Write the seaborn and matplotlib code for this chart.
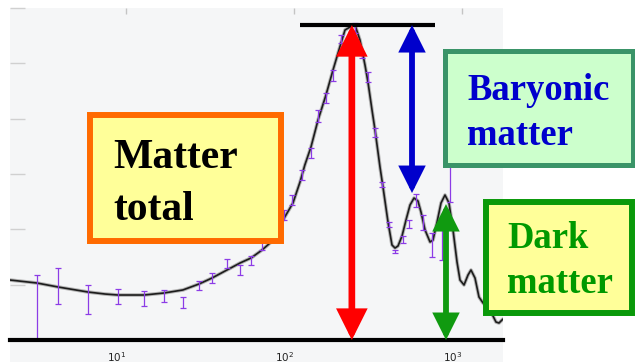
import matplotlib
matplotlib.use("Agg")
import matplotlib.pyplot as plt
import seaborn as sns
import pandas as pd
from matplotlib.patches import Rectangle, FancyArrowPatch, ArrowStyle
from matplotlib.ticker import FixedLocator, NullLocator

# model curve: multipole l and D_l (uK^2)
ell_curve = [2.04, 2.95, 3.94, 5.94, 7.5, 8.96, 12.8, 16.8, 21.8, 27.2, 32.5, 39.9,
             47.7, 55.5, 64.5, 72.0, 86.0, 98.6, 108.6, 116, 126.2, 139, 155, 170.7,
             190.5, 201.2, 215.4, 230.7, 247, 264.6, 275.6, 291.3, 303.6, 325, 338.6,
             362.7, 383.1, 399.3, 416, 439.5, 464.2, 490.4, 518, 547, 570, 602.6,
             645.4, 672, 710.5, 750, 792, 836.8, 884, 934, 973, 1028, 1086, 1131,
             1195, 1262, 1334, 1469, 1593, 1660, 1754]
dl_curve = [1084, 1030, 958, 867, 831, 813, 813, 849, 904, 1012, 1120, 1265,
            1391, 1482, 1626, 1753, 2168, 2476, 2855, 3162, 3488, 3975, 4427, 4879,
            5367, 5602, 5656, 5692, 5421, 4969, 4662, 4156, 3795, 3126, 2765,
            2132, 1717, 1662, 1699, 1879, 2168, 2439, 2566, 2512, 2313, 1988,
            1771, 1807, 2132, 2476, 2620, 2476, 1988, 1409, 1084, 994, 1175, 1265,
            1120, 777, 669, 542, 325, 307, 379]

# binned measurements with error bars
ell_pts = [2.95, 3.94, 5.94, 8.96, 12.8, 16.8, 21.8, 27.2, 32.5, 39.9, 47.7, 55.5,
           64.5, 87.1, 97.2, 111.6, 126.2, 139, 155, 170.7, 190.5, 230.7, 254, 275.6,
           303.6, 334, 367, 399, 446, 484, 532, 586, 662, 760, 848]
dl_pts = [200, 976, 732, 786, 750, 795, 678, 985, 1120, 1383, 1265, 1437,
          1717, 2260, 2530, 2982, 3380, 4048, 4374, 4780, 5440, 5640, 5130, 4753,
          3750, 2810, 2087, 1600, 1816, 2096, 2521, 2123, 1717, 1790, 2900]
dl_err = [975, 325, 262, 135, 135, 108, 100, 81, 90, 81, 90, 81,
          90, 90, 90, 90, 90, 108, 90, 100, 72, 90, 30, 90,
          81, 45, 45, 27, 63, 72, 117, 135, 217, 343, 400]

xticks = [10, 100, 1000]
yticks = [0, 1000, 2000, 3000, 4000, 5000, 6000]

# annotation levels
peak_level = 5692
peak_span = (108.6, 690)
ell_total, ell_baryon, ell_dark = 221, 504, 803
baryon_low = 2656
dark_high = 2457

sns.set_style("white")
plt.rcParams['font.family'] = ['DejaVu Sans']

W, H = 635, 364
fig = plt.figure(figsize=(W / 100, H / 100), dpi=100, facecolor='white')


def fx(px):
    return px / W


def fy(py):
    return 1 - py / H


# pale plot panel behind everything
fig.add_artist(Rectangle((fx(10), fy(362)), fx(493), (362 - 8) / H,
                         transform=fig.transFigure, facecolor='#f5f6f7',
                         edgecolor='none', zorder=-5))

ax = fig.add_axes([fx(10), fy(340), fx(493), (340 - 8) / H])
ax.set_facecolor('none')

curve = pd.DataFrame({'ell': ell_curve, 'dl': dl_curve})
sns.lineplot(data=curve, x='ell', y='dl', color='#b4b4b4', lw=2.6, ax=ax, zorder=2)
sns.lineplot(data=curve, x='ell', y='dl', color='#1c1c1c', lw=1.2, ax=ax, zorder=3)

ax.errorbar(ell_pts, dl_pts, yerr=dl_err, fmt='none', ecolor='#8c3ce6',
            elinewidth=0.9, capsize=2.2, capthick=0.9, zorder=4)

ax.set_xscale('log')
ax.set_xlim(2.04, 1754)
ax.set_ylim(0, 6000)
ax.set_xlabel('')
ax.set_ylabel('')

ax.xaxis.set_major_locator(FixedLocator(xticks))
ax.xaxis.set_minor_locator(NullLocator())
ax.yaxis.set_major_locator(FixedLocator(yticks))
ax.tick_params(axis='x', which='major', top=True, bottom=False, labelbottom=True,
               direction='in', length=4, width=1, color='#c4c4c4',
               labelsize=7.5, pad=7, labelcolor='#222222')
ax.tick_params(axis='y', left=True, labelleft=False, direction='in',
               length=11, width=1, color='#d0d0d0')
plt.setp(ax.get_xticklabels(), ha='right')

for side in ['left', 'top', 'right']:
    ax.spines[side].set_visible(False)
ax.spines['bottom'].set_color('black')
ax.spines['bottom'].set_linewidth(3)
ax.spines['bottom'].set_zorder(6)

# top reference line at the first peak
ax.hlines(peak_level, peak_span[0], peak_span[1], color='black', lw=3, zorder=6)


def double_arrow(x, y0, y1, color, hl, hw, lw):
    style = ArrowStyle('<|-|>', head_length=hl, head_width=hw)
    arr = FancyArrowPatch((x, y0), (x, y1), arrowstyle=style, mutation_scale=1,
                          color=color, lw=lw, joinstyle='miter',
                          shrinkA=0, shrinkB=0, zorder=7, clip_on=False)
    ax.add_patch(arr)


double_arrow(ell_total, 0, peak_level, '#ff0000', 15, 7.5, 4.8)
double_arrow(ell_baryon, baryon_low, peak_level, '#0000cc', 13, 6.5, 4.2)
double_arrow(ell_dark, 0, dark_high, '#109a10', 13, 6.5, 4.2)


def label_box(x0, y0, x1, y1, edge, face, lw, lines, color, size):
    fig.add_artist(Rectangle((fx(x0), fy(y1)), fx(x1 - x0), (y1 - y0) / H,
                             transform=fig.transFigure, facecolor=face,
                             edgecolor=edge, lw=lw, zorder=10))
    for tx, ty, s in lines:
        fig.text(fx(tx), fy(ty), s, ha='left', va='baseline', color=color,
                 fontsize=size, fontweight='bold', family='Liberation Serif',
                 zorder=11)


label_box(90, 115, 281, 241, '#ff6a00', '#ffff99', 4.3,
          [(113, 168, 'Matter'), (113, 220, 'total')], 'black', 30)
label_box(444.5, 51.5, 632.5, 165.5, '#3a9468', '#ccffcc', 3.6,
          [(467, 100, 'Baryonic'), (467, 145, 'matter')], '#0000cc', 26.4)
label_box(486, 202, 632, 313, '#0a990a', '#ffff99', 4.3,
          [(507, 248, 'Dark'), (507, 293, 'matter')], '#009900', 26.4)

fig.savefig('out.png', dpi=100, facecolor='white')
